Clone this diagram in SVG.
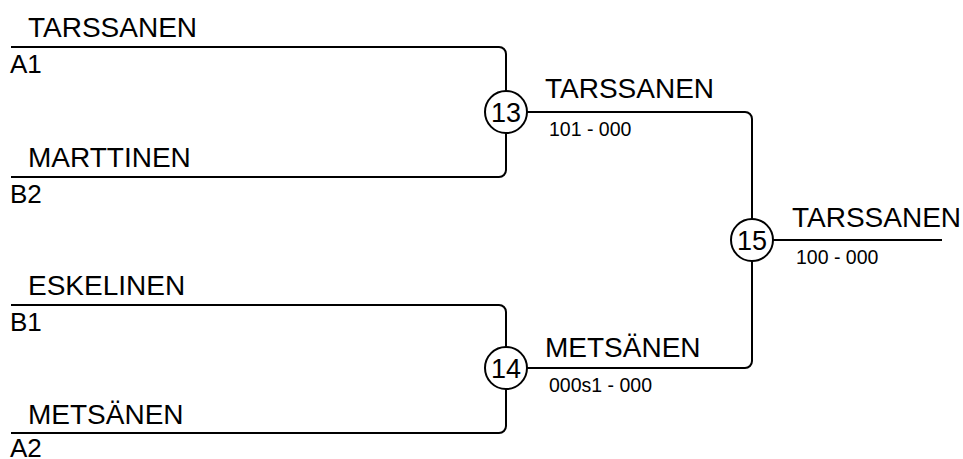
<svg xmlns="http://www.w3.org/2000/svg" width="963" height="459" viewBox="0 0 963 459">
<style>
.ln{fill:none;stroke:#000;stroke-width:2}
.c{fill:#fff;stroke:#000;stroke-width:2}
.t{font-family:"Liberation Sans",Arial,sans-serif;fill:#000}
.nm{font-size:28px}
.sd{font-size:26px}
.sc{font-size:19.5px}
.cn{font-size:27px;text-anchor:middle}
</style>
<rect width="963" height="459" fill="#fff"/>
<g id="connectors">
<path class="ln" d="M11,47 H499 A7,7 0 0 1 506,54 V170 A7,7 0 0 1 499,177 H11"/>
<path class="ln" d="M11,305 H499 A7,7 0 0 1 506,312 V426 A7,7 0 0 1 499,433 H11"/>
<path class="ln" d="M506,112 H745 A7,7 0 0 1 752,119 V361 A7,7 0 0 1 745,368 H506"/>
<path class="ln" d="M752,240 H942"/>
</g>
<g id="entry-a1"><text class="t nm" x="28" y="37">TARSSANEN</text><text class="t sd" x="10" y="73">A1</text></g>
<g id="entry-b2"><text class="t nm" x="28" y="167">MARTTINEN</text><text class="t sd" x="10" y="203">B2</text></g>
<g id="entry-b1"><text class="t nm" x="28" y="295">ESKELINEN</text><text class="t sd" x="10" y="331">B1</text></g>
<g id="entry-a2"><text class="t nm" x="28" y="424">METSÄNEN</text><text class="t sd" x="10" y="457">A2</text></g>
<g id="match-13"><circle class="c" cx="506" cy="112" r="21"/><text class="t cn" x="506" y="122">13</text></g>
<g id="match-14"><circle class="c" cx="506" cy="368" r="21"/><text class="t cn" x="506" y="378">14</text></g>
<g id="match-15"><circle class="c" cx="752" cy="240" r="21"/><text class="t cn" x="752" y="250">15</text></g>
<g id="result-13"><text class="t nm" x="545" y="98">TARSSANEN</text><text class="t sc" x="549" y="136">101 - 000</text></g>
<g id="result-14"><text class="t nm" x="545" y="357">METSÄNEN</text><text class="t sc" x="549" y="392">000s1 - 000</text></g>
<g id="result-15"><text class="t nm" x="792" y="227">TARSSANEN</text><text class="t sc" x="796" y="264">100 - 000</text></g>
</svg>
